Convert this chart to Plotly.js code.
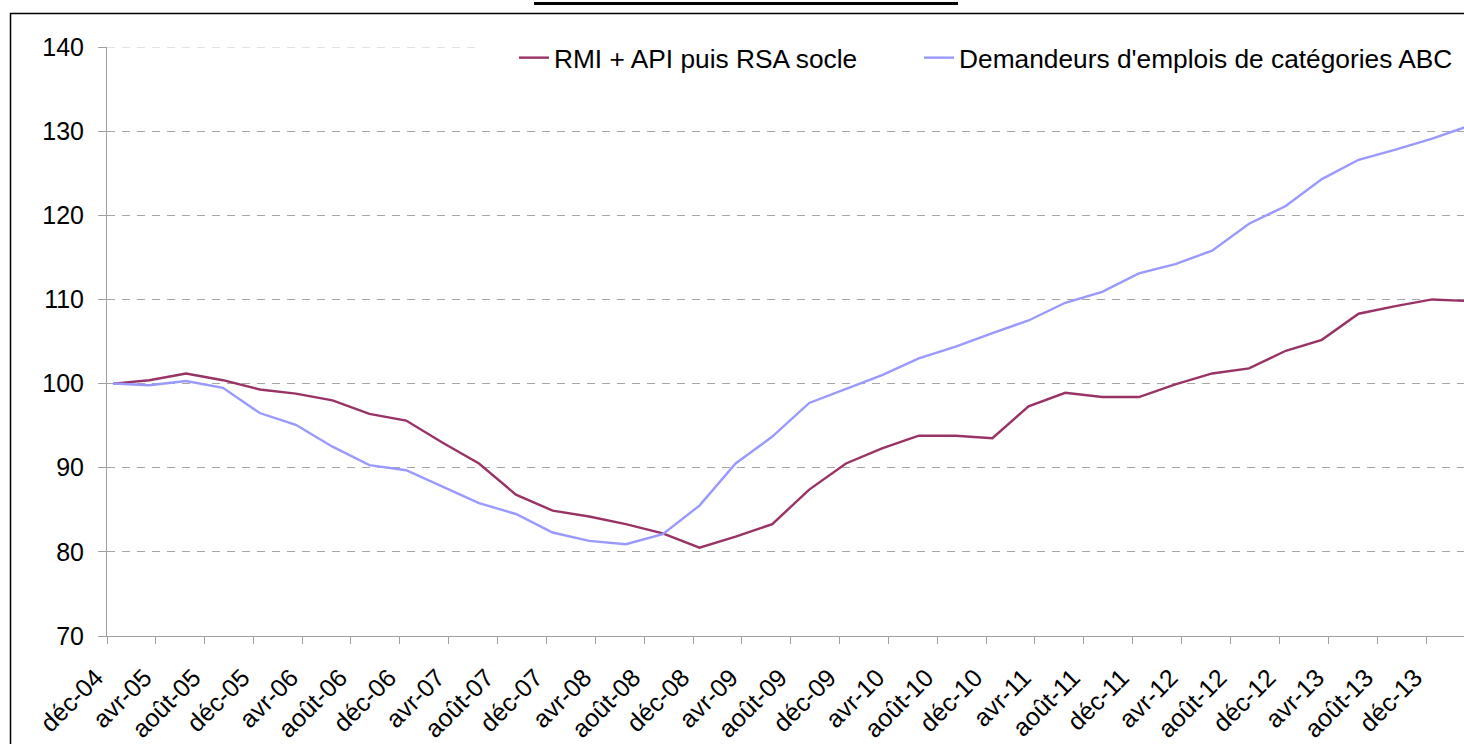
<!DOCTYPE html>
<html>
<head>
<meta charset="utf-8">
<script src="https://cdn.plot.ly/plotly-3.0.1.min.js"></script>
<style>
  html, body { margin: 0; padding: 0; background: #ffffff; overflow: hidden; }
  #chart { width: 1464px; height: 744px; }
</style>
</head>
<body>
<div id="chart"></div>
<script>
// Quarterly observation months
const months = [
  "2004-12-01","2005-03-01","2005-06-01","2005-09-01","2005-12-01",
  "2006-03-01","2006-06-01","2006-09-01","2006-12-01",
  "2007-03-01","2007-06-01","2007-09-01","2007-12-01",
  "2008-03-01","2008-06-01","2008-09-01","2008-12-01",
  "2009-03-01","2009-06-01","2009-09-01","2009-12-01",
  "2010-03-01","2010-06-01","2010-09-01","2010-12-01",
  "2011-03-01","2011-06-01","2011-09-01","2011-12-01",
  "2012-03-01","2012-06-01","2012-09-01","2012-12-01",
  "2013-03-01","2013-06-01","2013-09-01","2013-12-01",
  "2014-03-01"
];

// RMI + API puis RSA socle (base 100 = déc-04)
const rmiRsa = [
  100.0, 100.4, 101.2, 100.4, 99.3,
  98.8, 98.0, 96.4, 95.6,
  93.0, 90.5, 86.8, 84.9,
  84.2, 83.3, 82.2, 80.5,
  81.8, 83.3, 87.4, 90.5,
  92.3, 93.8, 93.8, 93.5,
  97.3, 98.9, 98.4, 98.4,
  99.9, 101.2, 101.8, 103.9,
  105.2, 108.3, 109.2, 110.0,
  109.8
];

// Demandeurs d'emplois de catégories ABC (base 100 = déc-04)
const demandeursABC = [
  100.0, 99.8, 100.3, 99.5, 96.5,
  95.1, 92.5, 90.3, 89.7,
  87.8, 85.8, 84.5, 82.3,
  81.3, 80.9, 82.1, 85.5,
  90.5, 93.7, 97.7, 99.4,
  101.0, 103.0, 104.4, 106.0,
  107.5, 109.6, 110.9, 113.1,
  114.2, 115.8, 119.0, 121.1,
  124.3, 126.6, 127.8, 129.1,
  130.6
];

const seriesNames = ["RMI + API puis RSA socle", "Demandeurs d'emplois de catégories ABC"];

// X tick positions and labels
const tickDates = [
  "2004-12-01","2005-04-01","2005-08-01","2005-12-01","2006-04-01","2006-08-01","2006-12-01",
  "2007-04-01","2007-08-01","2007-12-01","2008-04-01","2008-08-01","2008-12-01",
  "2009-04-01","2009-08-01","2009-12-01","2010-04-01","2010-08-01","2010-12-01",
  "2011-04-01","2011-08-01","2011-12-01","2012-04-01","2012-08-01","2012-12-01",
  "2013-04-01","2013-08-01","2013-12-01"
];
const tickLabels = [
  "déc-04","avr-05","août-05","déc-05","avr-06","août-06","déc-06",
  "avr-07","août-07","déc-07","avr-08","août-08","déc-08",
  "avr-09","août-09","déc-09","avr-10","août-10","déc-10",
  "avr-11","août-11","déc-11","avr-12","août-12","déc-12",
  "avr-13","août-13","déc-13"
];
const yTicks = [70, 80, 90, 100, 110, 120, 130, 140];

const FONT = "Liberation Sans, Arial, sans-serif";
const axisGrey = "#a0a0a0";
const gridGrey = "#a6a6a6";

const traces = [
  {
    type: "scatter", mode: "lines", name: seriesNames[0], legend: "legend",
    x: months, y: rmiRsa,
    xperiod: "M1", xperiodalignment: "middle",
    line: { color: "#993366", width: 2.4 }
  },
  {
    type: "scatter", mode: "lines", name: seriesNames[1], legend: "legend2",
    x: months, y: demandeursABC,
    xperiod: "M1", xperiodalignment: "middle",
    line: { color: "#9999ff", width: 2.4 }
  }
];

const legendFont = { family: FONT, size: 26.3, color: "#000000" };

const layout = {
  width: 1464, height: 744,
  margin: { l: 107, r: 0, t: 47, b: 108, pad: 0 },
  paper_bgcolor: "#ffffff", plot_bgcolor: "#ffffff",
  font: { family: FONT, size: 25, color: "#000000" },
  showlegend: true,
  legend: {
    orientation: "h",
    x: 0.2999, xanchor: "left", xref: "paper",
    y: 1.022, yanchor: "top", yref: "paper",
    bgcolor: "#ffffff", borderwidth: 0,
    font: legendFont
  },
  legend2: {
    orientation: "h",
    x: 0.5984, xanchor: "left", xref: "paper",
    y: 1.022, yanchor: "top", yref: "paper",
    bgcolor: "#ffffff", borderwidth: 0,
    font: legendFont
  },
  xaxis: {
    type: "date",
    range: ["2004-12-01", "2014-03-05 17:00"],
    tickmode: "array", tickvals: tickDates, ticktext: tickLabels,
    tickangle: -45,
    ticks: "outside", ticklen: 7, tickcolor: axisGrey, tickwidth: 1,
    ticklabelstandoff: 9, ticklabelshift: -11,
    showline: true, linecolor: axisGrey, linewidth: 1,
    showgrid: false, zeroline: false,
    tickfont: { family: FONT, size: 25, color: "#000000" },
    fixedrange: true
  },
  yaxis: {
    range: [70, 140],
    tickmode: "array", tickvals: yTicks,
    ticks: "outside", ticklen: 8, tickcolor: axisGrey, tickwidth: 1,
    ticklabelstandoff: 9,
    showline: true, linecolor: axisGrey, linewidth: 1,
    showgrid: true, gridcolor: gridGrey, gridwidth: 1, griddash: "8px,7px",
    zeroline: false,
    tickfont: { family: FONT, size: 25, color: "#000000" },
    fixedrange: true
  },
  shapes: [
    // top gridline (140), partly hidden behind the legend in the original
    { type: "line", xref: "paper", yref: "y",
      x0: 0, x1: 0.2763, y0: 140, y1: 140,
      line: { color: "#c8c8c8", width: 1, dash: "8px,7px" }, layer: "below" },
    // outer chart frame (left and top edges visible)
    { type: "rect", xref: "paper", yref: "paper",
      x0: -0.0711, x1: 1.02, y0: -0.25, y1: 1.0569,
      line: { color: "#000000", width: 1.5 }, fillcolor: "rgba(0,0,0,0)", layer: "above" },
    // underline of the (cropped) title
    { type: "rect", xref: "paper", yref: "paper",
      x0: 0.3147, x1: 0.6271, y0: 1.0713, y1: 1.0764,
      line: { width: 0 }, fillcolor: "#000000", layer: "above" }
  ]
};

Plotly.newPlot("chart", traces, layout, { displayModeBar: false, staticPlot: true });
</script>
</body>
</html>
